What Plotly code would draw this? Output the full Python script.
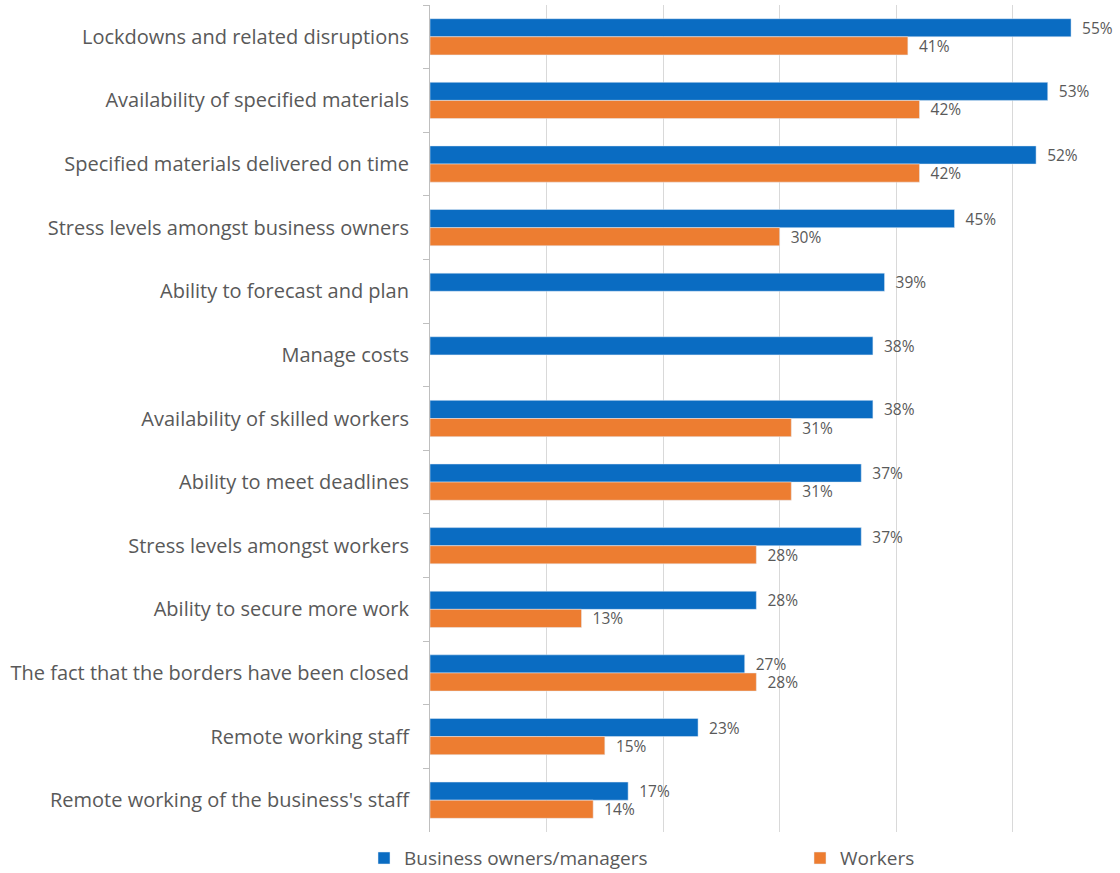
import plotly.graph_objects as go

categories = [
    "Lockdowns and related disruptions",
    "Availability of specified materials",
    "Specified materials delivered on time",
    "Stress levels amongst business owners",
    "Ability to forecast and plan",
    "Manage costs",
    "Availability of skilled workers",
    "Ability to meet deadlines",
    "Stress levels amongst workers",
    "Ability to secure more work",
    "The fact that the borders have been closed",
    "Remote working staff",
    "Remote working of the business's staff",
]
owners = [55, 53, 52, 45, 39, 38, 38, 37, 37, 28, 27, 23, 17]
workers = [41, 42, 42, 30, None, None, 31, 31, 28, 13, 28, 15, 14]

BLUE = "#0A6CC2"
ORANGE = "#ED7D31"
GRAY_TEXT = "#595959"
FONT = "Open Sans"
GAP = "\u00a0\u00a0"  # small gap between bar end and its value label


def pct(vals):
    return [f"{GAP}{v}%" if v is not None else "" for v in vals]


fig = go.Figure()
fig.add_trace(go.Bar(
    name="Business owners/managers", y=categories, x=owners, orientation="h",
    marker=dict(color=BLUE), text=pct(owners), textposition="outside",
    textfont=dict(family=FONT, size=15.5, color=GRAY_TEXT), cliponaxis=False,
    constraintext="none", legend="legend",
))
fig.add_trace(go.Bar(
    name="Workers", y=categories, x=workers, orientation="h",
    marker=dict(color=ORANGE), text=pct(workers), textposition="outside",
    textfont=dict(family=FONT, size=15.5, color=GRAY_TEXT), cliponaxis=False,
    constraintext="none", legend="legend2",
))

legend_common = dict(
    orientation="h", xref="container", yref="container",
    y=0.017, xanchor="left", yanchor="middle",
    font=dict(family=FONT, size=19, color=GRAY_TEXT),
    bgcolor="rgba(0,0,0,0)",
)

fig.update_layout(
    width=1120, height=873,
    margin=dict(l=430, r=0, t=5, b=41),
    paper_bgcolor="white", plot_bgcolor="white",
    barmode="group", bargap=0.43, bargroupgap=0,
    font=dict(family=FONT, color=GRAY_TEXT),
    showlegend=True,
    legend=dict(x=364 / 1120, **legend_common),
    legend2=dict(x=800 / 1120, **legend_common),
    xaxis=dict(
        range=[0, 59.2], dtick=10, showticklabels=False,
        showgrid=True, gridcolor="#D9D9D9", gridwidth=1,
        zeroline=False, showline=False,
    ),
    yaxis=dict(
        autorange="reversed", showline=True, linecolor="#BFBFBF", linewidth=1,
        ticks="outside", tickson="boundaries", ticklen=6, tickcolor="#BFBFBF",
        ticklabelstandoff=16,
        tickfont=dict(family=FONT, size=20, color=GRAY_TEXT),
        showgrid=False,
    ),
)

fig.write_html("out.html")
